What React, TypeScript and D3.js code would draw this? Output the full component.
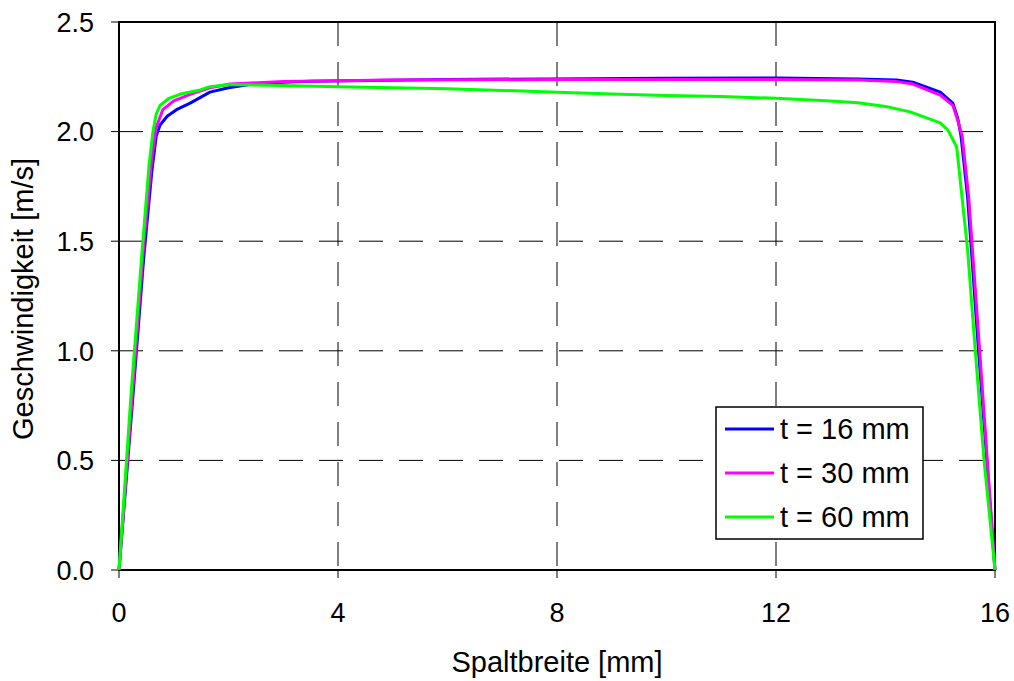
import React from "react";
import * as d3 from "d3";

const seriesNames = ["t = 16 mm", "t = 30 mm", "t = 60 mm"];
const seriesColors = ["#0000ff", "#ff00ff", "#00ff00"];

const blue: [number, number][] = [
  [0, 0], [0.25, 0.78], [0.45, 1.42], [0.6, 1.82], [0.68, 1.98], [0.75, 2.03], [0.88, 2.07],
  [1.05, 2.1], [1.3, 2.13], [1.66, 2.18], [2.0, 2.2], [2.5, 2.22], [3.5, 2.23], [6, 2.238],
  [10, 2.243], [12, 2.245], [13.5, 2.24], [14.2, 2.235], [14.5, 2.225], [15.0, 2.18],
  [15.23, 2.13], [15.32, 2.06], [15.38, 1.98], [15.5, 1.7], [15.7, 1.0], [15.85, 0.5], [16, 0],
];
const magenta: [number, number][] = [
  [0, 0], [0.25, 0.82], [0.45, 1.48], [0.6, 1.88], [0.68, 2.02], [0.8, 2.1], [1.0, 2.14],
  [1.3, 2.17], [1.66, 2.2], [2.03, 2.217], [3.0, 2.228], [5, 2.235], [8, 2.238], [12, 2.238],
  [13.5, 2.235], [14.2, 2.228], [14.5, 2.217], [15.0, 2.167], [15.23, 2.12], [15.32, 2.05],
  [15.4, 1.98], [15.52, 1.7], [15.72, 1.0], [15.86, 0.5], [16, 0],
];
const green: [number, number][] = [
  [0, 0], [0.22, 0.8], [0.42, 1.45], [0.55, 1.85], [0.62, 2.0], [0.68, 2.08], [0.75, 2.12],
  [0.9, 2.15], [1.11, 2.17], [1.48, 2.19], [1.66, 2.205], [2.03, 2.215], [3, 2.21], [4, 2.205],
  [5, 2.2], [6, 2.195], [7, 2.188], [8, 2.18], [9, 2.172], [10, 2.165], [11, 2.16], [12, 2.152],
  [13, 2.14], [13.5, 2.132], [14, 2.115], [14.45, 2.09], [15.0, 2.04], [15.14, 2.007],
  [15.3, 1.93], [15.5, 1.46], [15.64, 1.0], [15.8, 0.5], [16, 0],
];
const seriesData = [blue, magenta, green];

const xTicks = [0, 4, 8, 12, 16];
const yTicks = [0, 0.5, 1.0, 1.5, 2.0, 2.5];

const W = 1014, H = 681;
const L = 119, R = 995, T = 22, B = 570;
const FONT = "'Liberation Sans', Arial, sans-serif";

export default function App() {
  const x = d3.scaleLinear().domain([0, 16]).range([L, R]);
  const y = d3.scaleLinear().domain([0, 2.5]).range([B, T]);
  const line = d3.line<[number, number]>().x(d => x(d[0])).y(d => y(d[1]));

  const lgX = 716, lgY = 407, lgW = 207, lgH = 132;

  return (
    <svg width={W} height={H} style={{ position: "absolute", left: 0, top: 0, background: "#fff" }}>
      <rect x={0} y={0} width={W} height={H} fill="#fff" />
      {xTicks.filter(t => t > 0 && t < 16).map(t => (
        <line key={"gx" + t} x1={x(t)} x2={x(t)} y1={T} y2={B} stroke="#000" strokeWidth={1} strokeDasharray="24,16" />
      ))}
      {yTicks.filter(t => t > 0 && t < 2.5).map(t => (
        <line key={"gy" + t} x1={L} x2={R} y1={y(t)} y2={y(t)} stroke="#000" strokeWidth={1} strokeDasharray="24,16" />
      ))}
      <rect x={L} y={T} width={R - L} height={B - T} fill="none" stroke="#000" strokeWidth={2} />
      {yTicks.map(t => (
        <g key={"ty" + t}>
          <line x1={L - 8} x2={L} y1={y(t)} y2={y(t)} stroke="#000" strokeWidth={1} />
          <text x={94} y={y(t)} dy="0.36em" textAnchor="end" fontFamily={FONT} fontSize={27}>{t.toFixed(1)}</text>
        </g>
      ))}
      {xTicks.map(t => (
        <g key={"tx" + t}>
          <line x1={x(t)} x2={x(t)} y1={B} y2={B + 8} stroke="#000" strokeWidth={1} />
          <text x={x(t)} y={622} textAnchor="middle" fontFamily={FONT} fontSize={27}>{t}</text>
        </g>
      ))}
      {seriesData.map((d, i) => (
        <path key={"s" + i} d={line(d) || ""} fill="none" stroke={seriesColors[i]} strokeWidth={3} strokeLinejoin="round" />
      ))}
      <text x={(L + R) / 2} y={672} textAnchor="middle" fontFamily={FONT} fontSize={29}>Spaltbreite [mm]</text>
      <text transform={`translate(33,299) rotate(-90)`} textAnchor="middle" fontFamily={FONT} fontSize={29}>Geschwindigkeit [m/s]</text>
      <rect x={lgX} y={lgY} width={lgW} height={lgH} fill="#fff" stroke="#000" strokeWidth={1.5} />
      {seriesNames.map((n, i) => {
        const cy = 429 + i * 44;
        return (
          <g key={"lg" + i}>
            <line x1={725} x2={774} y1={cy} y2={cy} stroke={seriesColors[i]} strokeWidth={3} />
            <text x={780} y={cy} dy="0.36em" fontFamily={FONT} fontSize={29}>{n}</text>
          </g>
        );
      })}
    </svg>
  );
}
